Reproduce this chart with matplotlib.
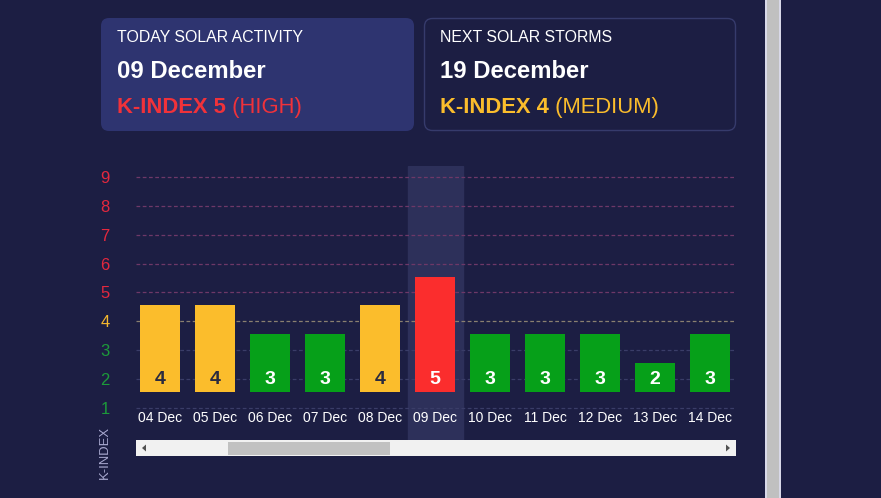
import matplotlib.pyplot as plt
from matplotlib.patches import FancyBboxPatch, Rectangle, Polygon

plt.rcParams['font.family'] = ['Liberation Sans', 'DejaVu Sans']

# data
dates = ["04 Dec", "05 Dec", "06 Dec", "07 Dec", "08 Dec", "09 Dec",
         "10 Dec", "11 Dec", "12 Dec", "13 Dec", "14 Dec"]
kindex = [4, 4, 3, 3, 4, 5, 3, 3, 3, 2, 3]
today_idx = 5
levels = [1, 2, 3, 4, 5, 6, 7, 8, 9]

today_date = "09 December"
today_k = 5
today_word = "HIGH"
next_date = "19 December"
next_k = 4
next_word = "MEDIUM"

BG = "#1c1e43"
CARD = "#2e3470"
RED = "#fb2d2d"
YELLOW = "#fbbd2c"
GREEN = "#06a019"


def level_color(v):
    if v >= 5:
        return RED
    if v == 4:
        return YELLOW
    return GREEN


def label_color(v):
    if v >= 5:
        return "#e4283e"
    if v == 4:
        return "#f5b82e"
    return "#1c9a3a"


def grid_color(v):
    if v >= 5:
        return "#6e3868"
    if v == 4:
        return "#8a8070"
    return "#3a3d68"


fig = plt.figure(figsize=(8.81, 4.98), dpi=100, facecolor=BG)

# background layer in pixel coords
bg = fig.add_axes([0, 0, 1, 1])
bg.set_xlim(0, 881)
bg.set_ylim(498, 0)
bg.axis("off")
bg.set_facecolor(BG)

bg.add_patch(FancyBboxPatch((101, 18), 313, 113, boxstyle="round,pad=0,rounding_size=8",
                            fc=CARD, ec="none"))
bg.add_patch(FancyBboxPatch((424.5, 18.5), 311, 112, boxstyle="round,pad=0,rounding_size=8",
                            fc=BG, ec="#363b6c", lw=1))


def card(x, title, date, k, word, col):
    bg.text(x, 37, title, color="white", fontsize=11.4, va="center", ha="left")
    bg.text(x, 71, date, color="white", fontsize=17.2, fontweight="bold", va="center", ha="left")
    t = bg.text(x, 107, "K-INDEX %d" % k, color=col, fontsize=15.8, fontweight="bold",
                va="center", ha="left")
    bg.annotate(" (%s)" % word, xy=(1, 0), xycoords=t, va="bottom", ha="left",
                color=col, fontsize=15.8)


card(117, "TODAY SOLAR ACTIVITY", today_date, today_k, today_word, "#f0323a")
card(440, "NEXT SOLAR STORMS", next_date, next_k, next_word, YELLOW)

# scrollbar
bg.add_patch(Rectangle((136, 440), 600, 16, fc="#f1f1f1", ec="none"))
bg.add_patch(Rectangle((228, 441.5), 162, 13, fc="#c1c1c1", ec="none"))
bg.add_patch(Polygon([[142, 448], [146, 444.5], [146, 451.5]], closed=True, fc="#505050", ec="none"))
bg.add_patch(Polygon([[730, 448], [726, 444.5], [726, 451.5]], closed=True, fc="#505050", ec="none"))

# right strip
bg.add_patch(Rectangle((765, 0), 1.5, 498, fc="#d8d8e8", ec="none"))
bg.add_patch(Rectangle((766.5, 0), 12.5, 498, fc="#c0c0c0", ec="none"))
bg.add_patch(Rectangle((779, 0), 1.5, 498, fc="#d8d8e8", ec="none"))

bg.text(105, 452, "K-INDEX", rotation=90, color="#a9a9d0", fontsize=9.4, ha="center", va="center")

# chart
ax = fig.add_axes([136 / 881, (498 - 440) / 498, 600 / 881, (440 - 166) / 498])
ax.set_facecolor("none")
for s in ax.spines.values():
    s.set_visible(False)
ax.set_xlim(-0.44, 10.47)
ax.set_ylim(-0.108, 9.38)

ax.axvspan(today_idx - 0.5, today_idx + 0.5, color="#2d305a", zorder=0)

for lv in levels:
    ax.axhline(lv, color=grid_color(lv), lw=0.9, ls=(0, (3, 2)), zorder=1)

base = 1.55
x = list(range(len(dates)))
bars = ax.bar(x, [v - 1 for v in kindex], bottom=base, width=0.727,
              color=[level_color(v) for v in kindex], zorder=2)

for i, v in enumerate(kindex):
    tc = "#2b2b3f" if v == 4 else "white"
    ax.text(i, base + 0.43, str(v), color=tc, fontsize=14, fontweight="bold",
            ha="center", va="center", zorder=3)
    ax.text(i, 0.66, dates[i], color="white", fontsize=10, ha="center", va="center", zorder=3)

ax.set_xticks([])
ax.set_yticks(levels)
ax.set_yticklabels([str(v) for v in levels], fontsize=12)
ax.tick_params(axis="y", length=0, pad=19)
for lbl, lv in zip(ax.get_yticklabels(), levels):
    lbl.set_color(label_color(lv))

fig.savefig("out.png", dpi=100, facecolor=BG)
